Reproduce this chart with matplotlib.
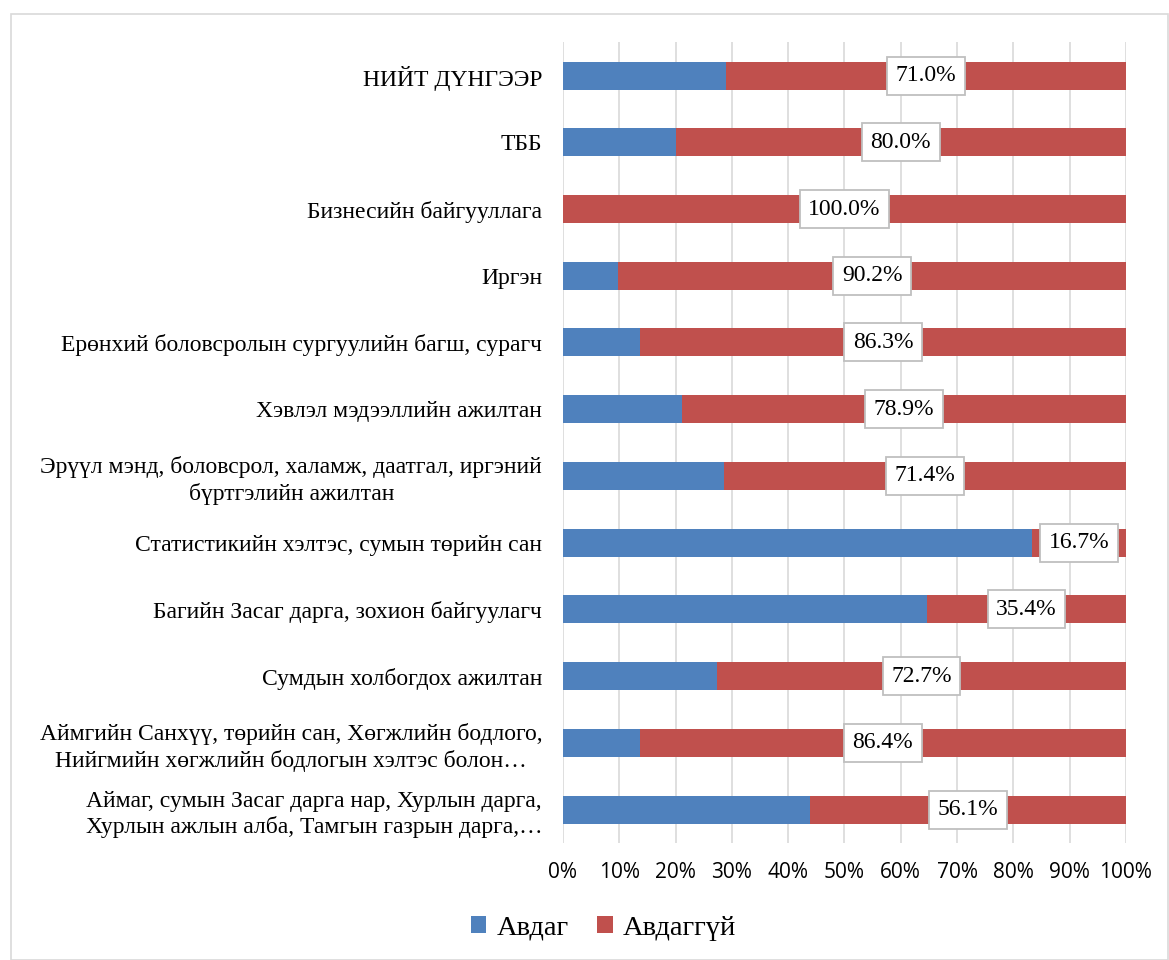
import numpy as np
import matplotlib.pyplot as plt
from matplotlib.patches import Rectangle

# categories from bottom to top
categories = [
    "Аймаг, сумын Засаг дарга нар, Хурлын дарга,\nХурлын ажлын алба, Тамгын газрын дарга,…",
    "Аймгийн Санхүү, төрийн сан, Хөгжлийн бодлого,\nНийгмийн хөгжлийн бодлогын хэлтэс болон…",
    "Сумдын холбогдох ажилтан",
    "Багийн Засаг дарга, зохион байгуулагч",
    "Статистикийн хэлтэс, сумын төрийн сан",
    "Эрүүл мэнд, боловсрол, халамж, даатгал, иргэний\nбүртгэлийн ажилтан",
    "Хэвлэл мэдээллийн ажилтан",
    "Ерөнхий боловсролын сургуулийн багш, сурагч",
    "Иргэн",
    "Бизнесийн байгууллага",
    "ТББ",
    "НИЙТ ДҮНГЭЭР",
]
avdaggui = [56.1, 86.4, 72.7, 35.4, 16.7, 71.4, 78.9, 86.3, 90.2, 100.0, 80.0, 71.0]
avdag = [round(100 - v, 1) for v in avdaggui]

blue = "#4f81bd"
red = "#c0504d"
serif = "Liberation Serif"

fig = plt.figure(figsize=(11.69, 9.6), dpi=100)
fig.patches.append(Rectangle((0.009, 0.0), 0.99, 0.985, transform=fig.transFigure,
                             fill=False, edgecolor="#d9d9d9", linewidth=1.2))
ax = fig.add_axes([0.4816, 0.122, 0.4816, 0.834])

y = np.arange(len(categories))
ax.barh(y, avdag, height=0.42, color=blue, label="Авдаг", zorder=3)
ax.barh(y, avdaggui, left=avdag, height=0.42, color=red, label="Авдаггүй", zorder=3)

for i in range(len(categories)):
    cx = avdag[i] + avdaggui[i] / 2
    ax.text(cx, y[i], f"{avdaggui[i]:.1f}%", ha="center", va="center",
            fontsize=17, family=serif, zorder=5,
            bbox=dict(boxstyle="square,pad=0.36", fc="white", ec="#bfbfbf", lw=1.3))

ax.set_xlim(0, 100)
ax.set_ylim(-0.5, len(categories) - 0.5)
ax.set_xticks(np.arange(0, 101, 10))
ax.set_xticklabels([f"{t}%" for t in range(0, 101, 10)], fontsize=15, family="Open Sans")
ax.set_yticks(y)
ax.set_yticklabels(categories, fontsize=17, family=serif, multialignment="center",
                   linespacing=1.25)
ax.tick_params(length=0, pad=15)
ax.tick_params(axis="x", pad=14)
ax.grid(axis="x", color="#d9d9d9", linewidth=1.2, zorder=0)
for s in ax.spines.values():
    s.set_visible(False)

leg = fig.legend(loc="center", bbox_to_anchor=(0.516, 0.033), ncol=2, frameon=False,
                 prop={"family": serif, "size": 20.5}, handlelength=0.55, handleheight=0.55,
                 handletextpad=0.35, columnspacing=1.0)

fig.savefig("out.png", dpi=100)
